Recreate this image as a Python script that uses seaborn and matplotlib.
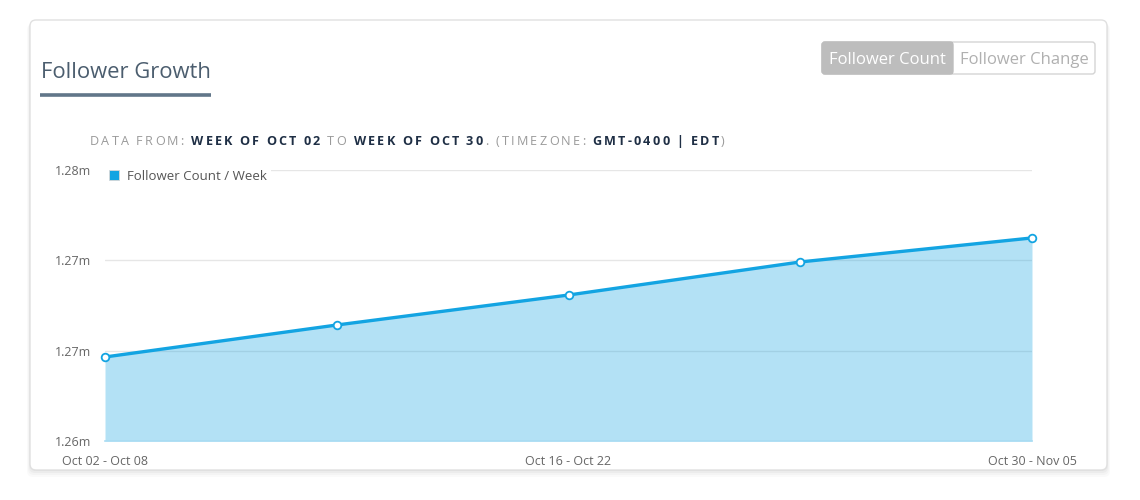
import numpy as np
import pandas as pd
import matplotlib
matplotlib.use("Agg")
import matplotlib.pyplot as plt
import seaborn as sns
from matplotlib.patches import FancyBboxPatch, Patch, Rectangle

# ---------------- data ----------------
weeks = ["Oct 02 - Oct 08", "Oct 09 - Oct 15", "Oct 16 - Oct 22",
         "Oct 23 - Oct 29", "Oct 30 - Nov 05"]
followers = [1264650, 1266420, 1268080, 1269910, 1271240]
y_ticks = [1260000, 1265000, 1270000, 1275000]
y_tick_labels = ["1.26m", "1.27m", "1.27m", "1.28m"]
x_label_idx = [0, 2, 4]
series_name = "Follower Count / Week"

LINE = "#13a4e2"
GRID = "#e6e6e6"
LABEL = "#666666"

sns.set_theme(style="white")
plt.rcParams["font.family"] = ["Open Sans", "DejaVu Sans"]

W, H = 1140, 500
fig = plt.figure(figsize=(W / 100, H / 100), dpi=100)
fig.patch.set_facecolor("white")

# background axes in pixel coordinates
bg = fig.add_axes([0, 0, 1, 1], zorder=0)
bg.set_xlim(0, W)
bg.set_ylim(H, 0)
bg.axis("off")

# card shadow + card
for i, a in enumerate([0.035, 0.03, 0.025, 0.02]):
    bg.add_patch(FancyBboxPatch((30 - i, 21 + i), 1077 + 2 * i, 450 + i,
                                boxstyle="round,pad=0,rounding_size=6",
                                fc="black", ec="none", alpha=a))
bg.add_patch(FancyBboxPatch((30, 20), 1077, 450,
                            boxstyle="round,pad=0,rounding_size=6",
                            fc="white", ec="#e0e0e0", lw=1))

# title + underline
bg.text(41, 73, "Follower Growth", fontsize=15.8, color="#4b5d6e",
        ha="left", va="center")
bg.plot([40, 211], [95, 95], color="#617689", lw=2.6, solid_capstyle="butt")

# toggle buttons
bg.add_patch(FancyBboxPatch((822, 42), 273, 32,
                            boxstyle="round,pad=0,rounding_size=3",
                            fc="white", ec="#d4d4d4", lw=1))
bg.add_patch(FancyBboxPatch((822, 42), 131, 32,
                            boxstyle="round,pad=0,rounding_size=3",
                            fc="#bdbdbd", ec="#bdbdbd", lw=1))
bg.add_patch(Rectangle((940, 42), 13, 32, fc="#bdbdbd", ec="none"))
bg.text(887.5, 60, "Follower Count", fontsize=12, color="white",
        ha="center", va="center")
bg.text(1024, 60, "Follower Change", fontsize=12, color="#b0b0b0",
        ha="center", va="center")

# subtitle with letter spacing, mixed styles
segments = [("DATA FROM: ", "#9a9a9a", "normal"),
            ("WEEK OF OCT 02", "#1f2f45", "bold"),
            (" TO ", "#9a9a9a", "normal"),
            ("WEEK OF OCT 30", "#1f2f45", "bold"),
            (". (TIMEZONE: ", "#9a9a9a", "normal"),
            ("GMT-0400 | EDT", "#1f2f45", "bold"),
            (")", "#9a9a9a", "normal")]
FS_SUB = 9.1
spacing = 1.62  # points
space_w = 3.6   # points
prev = None
pending = 0.0
for txt, col, wt in segments:
    for ch in txt:
        if ch == " ":
            pending += space_w
            continue
        if prev is None:
            prev = bg.text(90, 148, ch, fontsize=FS_SUB, color=col,
                           fontweight=wt, ha="left", va="bottom")
        else:
            prev = bg.annotate(ch, xy=(1, 0), xycoords=prev,
                               xytext=(spacing + pending, 0),
                               textcoords="offset points",
                               fontsize=FS_SUB, color=col, fontweight=wt,
                               ha="left", va="bottom")
        pending = 0.0

# ---------------- main chart ----------------
L, R, T, B = 105, 1032, 170, 441
ax = fig.add_axes([L / W, 1 - B / H, (R - L) / W, (B - T) / H], zorder=2)
ax.patch.set_alpha(0)

df = pd.DataFrame({"idx": np.arange(len(weeks)), "week": weeks,
                   "followers": followers})

ax.fill_between(df["idx"], y_ticks[0], df["followers"], color=LINE,
                alpha=0.32, lw=0, zorder=2)
sns.lineplot(data=df, x="idx", y="followers", ax=ax, color=LINE, lw=2.4,
             marker="o", markersize=5.5, markerfacecolor="white",
             markeredgecolor=LINE, markeredgewidth=1.3, zorder=3,
             clip_on=False, legend=False)

ax.set_xlim(0, len(weeks) - 1)
ax.set_ylim(y_ticks[0], y_ticks[-1])
ax.set_yticks(y_ticks)
ax.set_yticklabels(y_tick_labels)
ax.set_xticks(x_label_idx)
ax.set_xticklabels([weeks[i] for i in x_label_idx])
ax.set_xlabel("")
ax.set_ylabel("")

ax.yaxis.grid(True, color=GRID, lw=1, zorder=0)
ax.xaxis.grid(False)
ax.set_axisbelow(True)
for s in ["top", "left", "right"]:
    ax.spines[s].set_visible(False)
ax.spines["bottom"].set_color("#a9dcf3")
ax.spines["bottom"].set_linewidth(1.2)
ax.tick_params(axis="y", length=0, pad=10, labelsize=9, labelcolor=LABEL)
ax.tick_params(axis="x", length=0, pad=10, labelsize=9, labelcolor=LABEL)

leg = ax.legend(handles=[Patch(facecolor=LINE, edgecolor="#d8d8d8", lw=0.6)],
                labels=[series_name], loc="upper left",
                bbox_to_anchor=(0.0, 1.015), frameon=True, fancybox=False,
                framealpha=1, facecolor="white", edgecolor="none",
                fontsize=9.5, handlelength=0.75, handleheight=0.75,
                handletextpad=0.6, borderpad=0.3, borderaxespad=0.0)
for t in leg.get_texts():
    t.set_color("#555555")

fig.savefig("out.png", dpi=100, facecolor="white")
